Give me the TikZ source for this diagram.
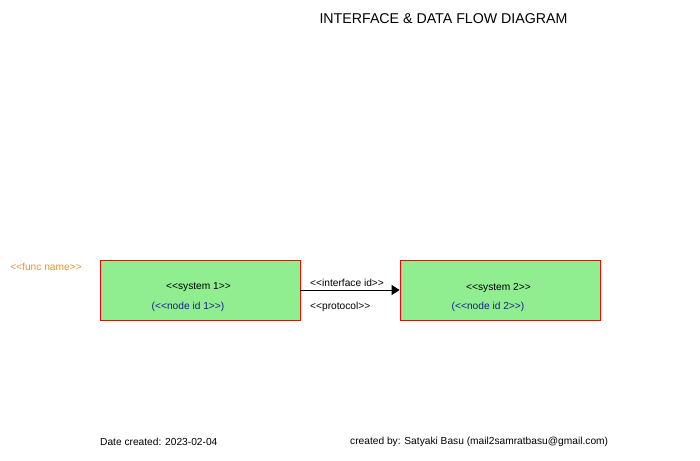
\documentclass[tikz,border=0pt]{standalone}
\usepackage{fontspec}
\setmainfont{Liberation Sans}
\usetikzlibrary{arrows.meta}
\definecolor{boxgreen}{HTML}{90EE90}
\definecolor{idblue}{HTML}{1A1A9A}
\definecolor{funcorange}{HTML}{E8913A}
\tikzset{
  sysbox/.style={draw=red, fill=boxgreen, line width=0.8pt, minimum width=200pt, minimum height=60pt, inner sep=0pt},
  lbl/.style={font=\fontsize{10.2}{12}\selectfont, inner sep=0pt},
  lblL/.style={lbl, anchor=west},
  idlbl/.style={lbl, text=idblue},
  flow/.style={line width=0.8pt, -{Triangle[length=8pt,width=10pt]}}
}
\begin{document}
\begin{tikzpicture}[x=1pt,y=-1pt]
\useasboundingbox (0,0) rectangle (700,460);
\node[font=\fontsize{14.2}{16}\selectfont, inner sep=0pt] (title) at (443.5,18.5) {INTERFACE \& DATA FLOW DIAGRAM};
\node[lbl, text=funcorange] (func) at (46,267) {<{}<func name>{}>};
\node[sysbox] (s1) at (200,290) {};
\node[sysbox] (s2) at (500,290) {};
\node[lbl] (s1name) at (198.5,287.5) {<{}<system 1>{}>};
\node[idlbl] (s1id) at (188,306.5) {(<{}<node id 1>{}>)};
\node[lbl] (s2name) at (498.5,287.5) {<{}<system 2>{}>};
\node[idlbl] (s2id) at (488,306.5) {(<{}<node id 2>{}>)};
\draw[flow] (s1.east) -- (s2.west);
\node[lblL] (iface) at (310,283) {<{}<interface id>{}>};
\node[lblL] (proto) at (310,307) {<{}<protocol>{}>};
\node[lblL] (date) at (100,441.5) {Date created: 2023-02-04};
\node[lblL] (author) at (350,441.5) {created by: Satyaki Basu (mail2samratbasu@gmail.com)};
\end{tikzpicture}
\end{document}
